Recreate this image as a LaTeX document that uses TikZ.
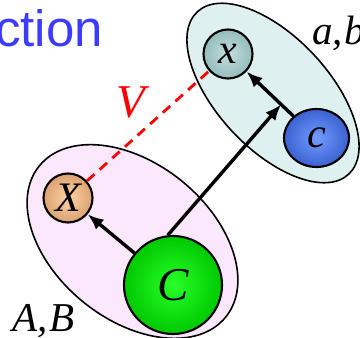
\documentclass[tikz,border=0pt]{standalone}
\usepackage{fontspec}
\setmainfont{Liberation Serif}
\newfontfamily\headfont{Liberation Sans}
\usetikzlibrary{arrows.meta,shapes.geometric,calc}
\definecolor{titleblue}{RGB}{60,60,255}
\definecolor{pinkfill}{RGB}{252,232,252}
\definecolor{cyanfill}{RGB}{222,240,240}
\begin{document}
\begin{tikzpicture}[x=1pt, y=1pt,
  group/.style={draw, ellipse, line width=1.6pt, inner sep=0pt},
  var/.style={draw, circle, line width=2.1pt, inner sep=0pt, font=\itshape\fontsize{42}{42}\selectfont},
  lab/.style={inner sep=0pt, font=\itshape\fontsize{41}{41}\selectfont},
  arrow/.style={-{Latex[length=16pt,width=13pt]}, line width=3.4pt},
  link/.style={red, line width=2.8pt, dash pattern=on 10pt off 7pt}
]
  \clip (0,0) rectangle (360,338);

  % Title (cut off)
  \node[font=\headfont\fontsize{51}{51}\selectfont, text=titleblue, anchor=base east, inner sep=0pt] (title) at (103,291) {ction};

  % Groups
  \node[group, fill=pinkfill, minimum width=240pt, minimum height=156pt, rotate=-39] (low) at (132.5,96.5) {};
  \node[group, fill=cyanfill, minimum width=222pt, minimum height=112pt, rotate=-47] (high) at (273,245) {};

  % Variables
  \node[var, minimum size=49pt, inner color={rgb,255:red,250;green,212;blue,168}, outer color={rgb,255:red,220;green,162;blue,112}] (X) at (68,140) {X};
  \node[var, minimum size=98pt, font=\itshape\fontsize{47}{47}\selectfont, inner color={rgb,255:red,40;green,255;blue,40}, outer color={rgb,255:red,0;green,200;blue,0}] (C) at (173,53) {C};
  \node[var, minimum size=49pt, inner color={rgb,255:red,195;green,222;blue,222}, outer color={rgb,255:red,148;green,188;blue,188}] (x) at (228,284) {x};
  \node[var, ellipse, minimum width=65pt, minimum height=58pt, inner color={rgb,255:red,115;green,155;blue,255}, outer color={rgb,255:red,58;green,98;blue,208}] (c) at (316.5,200) {c};

  % Labels
  \node[lab, text=red, font=\itshape\fontsize{47}{47}\selectfont, anchor=base] (V) at (131,220) {V};
  \node[lab, anchor=base west] (AB) at (12,6) {A,\kern2pt B};
  \node[lab, anchor=base west] (ab) at (312,293) {a,\kern2pt b};

  % Arrows
  \coordinate (m) at ($(c)!0.4!(x)$);
  \draw[arrow] (C) -- (X);
  \draw[arrow] (c) -- (x);
  \draw[arrow] (C.96) -- (m);
  \draw[link] (X) -- (x);
\end{tikzpicture}
\end{document}
